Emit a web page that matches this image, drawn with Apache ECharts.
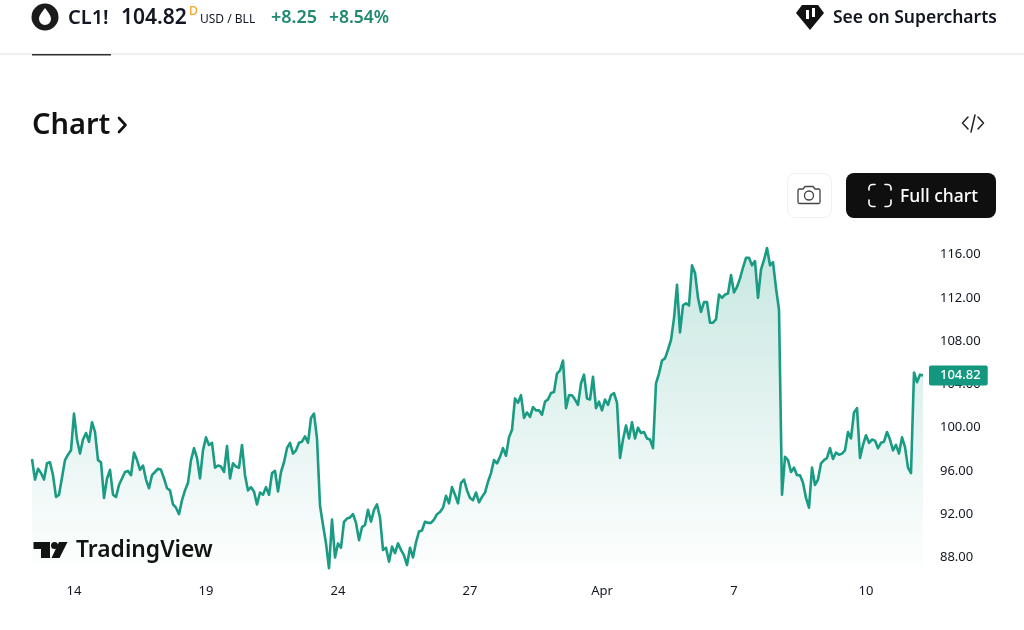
<!DOCTYPE html>
<html>
<head>
<meta charset="utf-8">
<style>html,body{margin:0;padding:0;background:#fff}#chart{width:1024px;height:630px}</style>
<script src="https://cdn.jsdelivr.net/npm/echarts@6/dist/echarts.min.js"></script>
</head>
<body>
<div id="chart"></div>
<script>
// prices, evenly spaced along the session axis
const prices = [
  97.1,95.2,96.2,95.8,95.2,96.7,96.8,95.6,93.6,93.8,95.4,97.0,97.5,97.9,101.3,98.9,97.6,98.9,99.5,98.7,
  100.5,99.6,97.0,96.8,93.5,95.3,96.1,93.8,93.6,94.7,95.3,95.9,96.0,95.6,97.7,97.0,96.1,96.5,95.2,94.4,
  95.6,95.9,96.2,96.1,95.3,94.4,94.2,92.9,92.6,92.0,93.3,94.2,94.9,97.0,98.1,97.2,95.3,97.9,99.1,98.4,
  98.6,96.3,96.5,96.4,95.9,98.3,95.3,96.7,96.4,96.3,98.4,95.6,94.2,94.5,94.1,92.9,94.0,93.8,94.5,93.8,
  95.8,96.0,94.1,95.9,96.8,98.1,98.6,97.6,97.9,98.6,98.7,99.2,98.6,100.9,101.3,99.0,92.8,91.0,89.3,87.0,
  91.5,88.0,89.3,88.9,91.3,91.6,91.7,92.0,91.2,89.6,90.8,91.0,92.4,91.3,92.4,92.9,91.7,88.7,88.9,87.6,
  89.0,88.4,89.3,88.7,88.2,87.3,88.9,88.0,89.4,90.4,90.5,91.3,91.2,91.2,91.5,92.0,92.2,92.6,93.7,93.0,
  94.5,93.8,93.0,94.9,95.2,94.2,93.5,93.3,94.0,93.1,93.6,94.0,95.0,95.8,97.0,96.7,97.3,98.1,97.4,99.1,
  99.8,102.7,102.3,103.0,100.9,101.4,101.0,101.9,101.6,101.6,101.2,102.4,102.6,103.2,103.3,105.0,105.3,106.2,101.8,103.0,
  103.0,102.6,102.1,104.1,104.9,102.7,102.6,104.7,101.8,102.4,101.6,102.6,102.1,103.0,103.2,102.3,97.2,98.9,100.2,99.0,
  100.5,99.0,100.0,99.5,99.6,99.0,98.9,98.1,104.1,105.0,106.2,106.4,107.2,108.1,110.1,113.2,108.8,111.3,111.5,111.3,
  115.0,114.3,112.0,110.7,111.6,111.6,109.7,109.7,110.0,112.3,112.0,112.3,112.4,114.1,112.5,113.0,113.8,114.8,115.7,115.7,
  115.0,115.4,112.0,114.6,115.5,116.6,115.0,115.3,112.9,110.9,93.8,97.3,97.0,95.9,96.3,95.6,95.6,94.9,93.5,92.6,
  96.3,94.7,95.2,96.7,97.0,97.2,98.1,97.1,97.7,97.5,97.6,97.9,99.6,99.0,101.4,101.8,97.2,98.4,99.3,98.6,
  98.9,98.8,98.1,98.6,98.7,99.6,98.9,97.9,98.4,97.6,99.1,98.2,96.3,95.8,105.1,104.2,104.9,104.82
];
const tickLabels = ['14', '19', '24', '27', 'Apr', '7', '10'];
const tickIndex = [14, 58, 102, 146, 190, 234, 278];
const lastPrice = '104.82';

const ink = '#131722';
const green = '#1a9b83';
const font = '"Noto Sans", "Open Sans", sans-serif';

const categories = prices.map(function (p, i) {
  const t = tickIndex.indexOf(i);
  return t >= 0 ? tickLabels[t] : '';
});

function label(text, x, y, size, weight, color) {
  return {
    type: 'text', x: x, y: y, silent: true,
    style: { text: text, fontSize: size, fontWeight: weight, fontFamily: font, fill: color, verticalAlign: 'middle' }
  };
}
// graphic has no plain path element, so each icon path gets registered as a shape
let shapeCount = 0;
function pathType(d) {
  const name = 'iconPath' + (shapeCount++);
  echarts.graphic.registerShape(name, echarts.graphic.extendPath(d, {}));
  return name;
}
function stroke(d, color, width) {
  return {
    type: pathType(d), silent: true,
    style: { fill: 'none', stroke: color, lineWidth: width, lineCap: 'round', lineJoin: 'round' }
  };
}
function solid(d, color) {
  return { type: pathType(d), silent: true, style: { fill: color } };
}

const chart = echarts.init(document.getElementById('chart'), null, { renderer: 'canvas' });
chart.setOption({
  animation: false,
  backgroundColor: '#fff',
  grid: { left: 32, right: 101, top: 232.9, bottom: 50.9, containLabel: false },
  xAxis: {
    type: 'category',
    boundaryGap: false,
    data: categories,
    axisLine: { show: false },
    axisTick: { show: false },
    splitLine: { show: false },
    axisLabel: { interval: 0, hideOverlap: false, margin: 6, color: ink, fontSize: 13, fontFamily: font }
  },
  yAxis: {
    type: 'value',
    position: 'right',
    min: 86,
    max: 118,
    interval: 2,
    axisLine: { show: false },
    axisTick: { show: false },
    splitLine: { show: false },
    axisLabel: {
      margin: 17, color: ink, fontSize: 13, fontFamily: font,
      formatter: function (v) { return v % 4 === 0 ? v.toFixed(2) : ''; }
    }
  },
  series: [{
    type: 'line',
    data: prices,
    showSymbol: false,
    symbol: 'none',
    sampling: false,
    lineStyle: { color: green, width: 2.6, join: 'round' },
    areaStyle: {
      color: new echarts.graphic.LinearGradient(0, 0, 0, 1, [
        { offset: 0, color: 'rgba(26,155,131,0.34)' },
        { offset: 1, color: 'rgba(26,155,131,0)' }
      ])
    },
    endLabel: {
      show: true,
      distance: 6,
      formatter: lastPrice,
      color: '#fff',
      fontSize: 13,
      fontWeight: 500,
      fontFamily: font,
      backgroundColor: '#13977f',
      padding: [4, 7, 3, 11],
      borderRadius: 2
    }
  }],
  graphic: [
    // header bar
    { type: 'rect', silent: true, shape: { x: 0, y: 53, width: 1024, height: 2 }, style: { fill: '#f0f0f0' } },
    { type: 'rect', silent: true, shape: { x: 32, y: 54, width: 79, height: 1.5 }, style: { fill: '#2e2e2e' } },
    { type: 'circle', silent: true, shape: { cx: 45, cy: 17, r: 13.5 }, style: { fill: '#1b1b1b' } },
    solid('M45 8C42 12 39 15.5 39 19a6 6 0 0 0 12 0C51 15.5 48 12 45 8Z', '#fff'),
    label('CL1!', 68, 18, 20, 600, ink),
    label('104.82', 121, 18, 21, 600, ink),
    label('D', 189, 12, 12, 500, '#f5a623'),
    label('USD / BLL', 200, 20, 12, 400, ink),
    label('+8.25', 271, 18, 18, 600, '#1f8a70'),
    label('+8.54%', 329, 18, 17.5, 600, '#1f8a70'),
    // supercharts link
    solid('M802 5H818L824 13L810 30L796 13Z', '#111'),
    { type: 'rect', silent: true, shape: { x: 806, y: 10, width: 3, height: 9 }, style: { fill: '#fff' } },
    { type: 'rect', silent: true, shape: { x: 812, y: 8, width: 3, height: 9 }, style: { fill: '#fff' } },
    label('See on Supercharts', 833, 18, 17.5, 600, ink),
    // section heading
    label('Chart', 32, 126, 29, 600, '#111'),
    stroke('M119 118L125.5 125L119 132', '#111', 2.6),
    stroke('M968 117L962.5 123L968 129M978 117L983.5 123L978 129M975 115L971 132', '#222', 1.5),
    // buttons
    {
      type: 'rect', silent: true, shape: { x: 787.5, y: 173.5, width: 44, height: 44, r: 8 },
      style: { fill: '#fff', stroke: '#f0f0f0', lineWidth: 1 }
    },
    stroke('M798 190.5a1.5 1.5 0 0 1 1.5-1.5H803L805 186.5H813L815 189H818.5a1.5 1.5 0 0 1 1.5 1.5V202a1.5 1.5 0 0 1-1.5 1.5H799.5A1.5 1.5 0 0 1 798 202Z', '#444', 1.3),
    { type: 'circle', silent: true, shape: { cx: 809, cy: 195.5, r: 4.5 }, style: { fill: 'none', stroke: '#444', lineWidth: 1.3 } },
    { type: 'rect', silent: true, shape: { x: 846, y: 173, width: 150, height: 45, r: 8 }, style: { fill: '#0f0f0f' } },
    stroke('M869 190V188a3.5 3.5 0 0 1 3.5-3.5H875M885 184.5H887.5A3.5 3.5 0 0 1 891 188V190M891 200V203a3.5 3.5 0 0 1-3.5 3.5H885M875 206.5H872.5A3.5 3.5 0 0 1 869 203V200', '#fff', 1.6),
    label('Full chart', 900, 197, 17.5, 500, '#fff'),
    // watermark
    solid('M33.500 542H50V558H41V549H33.500Z', '#111'),
    { type: 'circle', silent: true, shape: { cx: 54.5, cy: 545.5, r: 3.5 }, style: { fill: '#111' } },
    solid('M59 542H67.500L59.500 558H51.500Z', '#111'),
    label('TradingView', 76, 551, 22.8, 600, '#111')
  ]
});
</script>
</body>
</html>
